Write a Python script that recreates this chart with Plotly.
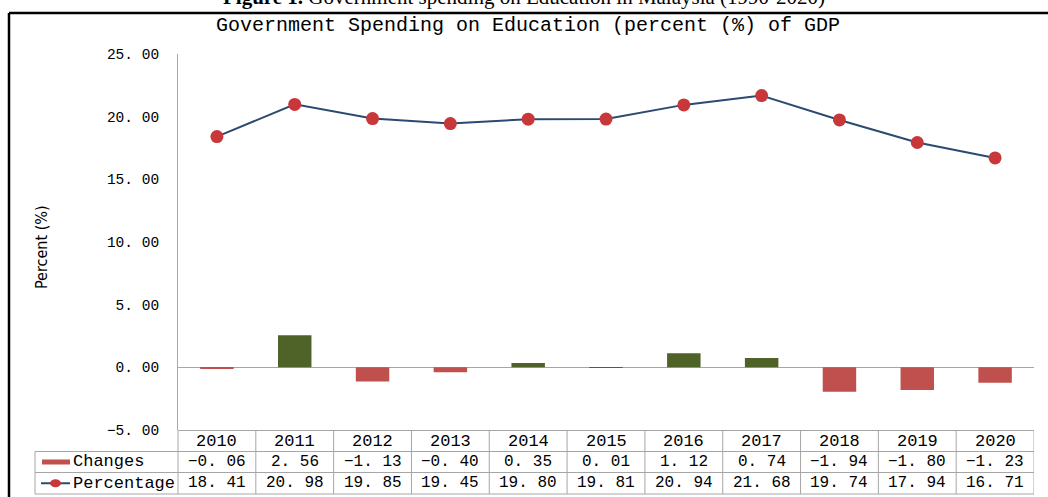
import plotly.graph_objects as go

years = ["2010", "2011", "2012", "2013", "2014", "2015", "2016", "2017", "2018", "2019", "2020"]
changes = [-0.06, 2.56, -1.13, -0.40, 0.35, 0.01, 1.12, 0.74, -1.94, -1.80, -1.23]
percentage = [18.41, 20.98, 19.85, 19.45, 19.80, 19.81, 20.94, 21.68, 19.74, 17.94, 16.71]
y_ticks = [-5, 0, 5, 10, 15, 20, 25]

W, H = 1048, 497
ML, MR, MT, MB = 178, 14, 54, 67
PW, PH = W - ML - MR, H - MT - MB


def fx(p):
    return (p - ML) / PW


def fy(p):
    return (H - MB - p) / PH


def fmt(v):
    return f"{v:.2f}".replace(".", ". ").replace("-", "\u2212")


POS = "#4F6228"
NEG = "#C0504D"
LINE = "#2B4A72"
MARK = "#C8373A"
GRID = "#A6A6A6"
MONO = "Liberation Mono, DejaVu Sans Mono, monospace"

fig = go.Figure()
fig.add_trace(go.Bar(
    x=years, y=changes, width=0.43,
    marker=dict(color=[POS if v > 0 else NEG for v in changes], line=dict(width=0)),
    name="Changes", showlegend=False,
))
fig.add_trace(go.Scatter(
    x=years, y=percentage, mode="lines+markers",
    line=dict(color=LINE, width=2),
    marker=dict(color=MARK, size=13),
    name="Percentage", showlegend=False,
))

shapes = []
annotations = []

# outer frame
shapes.append(dict(type="line", xref="paper", yref="paper", x0=fx(9), x1=fx(W), y0=fy(13), y1=fy(13),
                   line=dict(color="black", width=2.5)))
shapes.append(dict(type="line", xref="paper", yref="paper", x0=fx(9), x1=fx(9), y0=fy(13), y1=fy(H + 5),
                   line=dict(color="black", width=2.5)))

# data table geometry
row_top, row1, row2, row_bot = 430.5, 451.5, 472.5, 494
lab_left = 35
n = len(years)
shapes.append(dict(type="line", xref="paper", yref="paper", x0=0, x1=1, y0=fy(row_top), y1=fy(row_top),
                   line=dict(color=GRID, width=1)))
for r in (row1, row2, row_bot):
    shapes.append(dict(type="line", xref="paper", yref="paper", x0=fx(lab_left), x1=1, y0=fy(r), y1=fy(r),
                       line=dict(color=GRID, width=1)))
shapes.append(dict(type="line", xref="paper", yref="paper", x0=fx(lab_left), x1=fx(lab_left),
                   y0=fy(row1), y1=fy(row_bot), line=dict(color=GRID, width=1)))
shapes.append(dict(type="line", xref="paper", yref="paper", x0=0, x1=0,
                   y0=fy(row_top), y1=fy(row_bot), line=dict(color=GRID, width=1)))
for i in range(n):
    shapes.append(dict(type="line", xref="x", yref="paper", x0=i + 0.5, x1=i + 0.5,
                       y0=fy(row_top), y1=fy(row_bot), line=dict(color=GRID, width=1)))

# table text (x given as category index)
for i, yr in enumerate(years):
    for text, (a, b), sz in ((yr, (row_top, row1), 17), (fmt(changes[i]), (row1, row2), 16),
                             (fmt(percentage[i]), (row2, row_bot), 16)):
        annotations.append(dict(x=i, xref="x", y=fy((a + b) / 2), yref="paper", text=text,
                                showarrow=False, xanchor="center", yanchor="middle",
                                font=dict(family=MONO, size=sz, color="black")))

# legend keys in table
shapes.append(dict(type="rect", xref="paper", yref="paper", x0=fx(42), x1=fx(70),
                   y0=fy((row1 + row2) / 2 - 2.5), y1=fy((row1 + row2) / 2 + 2.5),
                   fillcolor=NEG, line=dict(width=0)))
shapes.append(dict(type="line", xref="paper", yref="paper", x0=fx(41), x1=fx(70),
                   y0=fy((row2 + row_bot) / 2), y1=fy((row2 + row_bot) / 2),
                   line=dict(color=LINE, width=2)))
shapes.append(dict(type="circle", xref="paper", yref="paper", x0=fx(50), x1=fx(61),
                   y0=fy((row2 + row_bot) / 2 - 4), y1=fy((row2 + row_bot) / 2 + 4),
                   fillcolor=MARK, line=dict(width=0)))
for text, (a, b) in (("Changes", (row1, row2)), ("Percentage", (row2, row_bot))):
    annotations.append(dict(x=fx(71), xref="paper", y=fy((a + b) / 2), yref="paper", text=text,
                            showarrow=False, xanchor="left", yanchor="middle",
                            font=dict(family=MONO, size=17, color="black")))

# titles
annotations.append(dict(x=fx(524), xref="paper", y=fy(11), yref="paper",
                        text="<b>Figure 1.</b> Government spending on Education in Malaysia (1990-2020)",
                        showarrow=False, xanchor="center", yanchor="bottom",
                        font=dict(family="Liberation Serif, Times New Roman, serif", size=21, color="black")))
annotations.append(dict(x=fx(528), xref="paper", y=fy(26), yref="paper",
                        text="Government Spending on Education (percent (%) of GDP",
                        showarrow=False, xanchor="center", yanchor="middle",
                        font=dict(family=MONO, size=20, color="black")))
annotations.append(dict(x=fx(41), xref="paper", y=fy(247), yref="paper",
                        text="Percent (%)", textangle=-90,
                        showarrow=False, xanchor="center", yanchor="middle",
                        font=dict(family="Liberation Sans Narrow, DejaVu Sans Condensed, sans-serif", size=16,
                                  color="black")))

fig.update_layout(
    width=W, height=H,
    margin=dict(l=ML, r=MR, t=MT, b=MB, pad=0),
    paper_bgcolor="white", plot_bgcolor="white",
    shapes=shapes, annotations=annotations,
    bargap=0.5,
    xaxis=dict(type="category", range=[-0.5, n - 0.5], showticklabels=False, ticks="",
               showgrid=False, zeroline=False, showline=False),
    yaxis=dict(range=[-5, 25], tickvals=y_ticks, ticktext=[fmt(v) for v in y_ticks],
               showgrid=False, zeroline=True, zerolinecolor=GRID, zerolinewidth=1,
               showline=True, linecolor=GRID, linewidth=1, ticks="", ticklabelstandoff=15,
               tickfont=dict(family=MONO, size=14.5, color="black")),
)

fig.write_html("out.html")
